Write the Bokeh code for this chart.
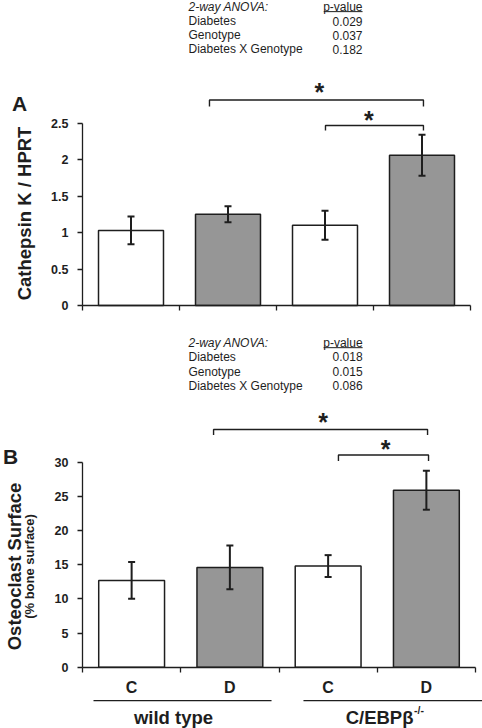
import math
from bokeh.plotting import figure
from bokeh.models import Range1d, LinearAxis, FixedTicker, ColumnDataSource, Whisker, TeeHead
from bokeh.layouts import column
from bokeh.embed import file_html
from bokeh.resources import INLINE
from bokeh.core.properties import value

# ---------------- data ----------------
conditions = ["C", "D", "C", "D"]
diabetic = [False, True, False, True]
genotypes = ["wild type", "C/EBPβ"]
genotype_sup = "-/-"
cathepsin_k = [1.03, 1.25, 1.10, 2.06]
cathepsin_k_sem = [0.19, 0.11, 0.20, 0.28]
osteoclast_surface = [12.7, 14.6, 14.8, 25.9]
osteoclast_surface_sem = [2.7, 3.2, 1.6, 2.85]
anova_terms = ["Diabetes", "Genotype", "Diabetes X Genotype"]
anova_p_cathepsin = ["0.029", "0.037", "0.182"]
anova_p_osteoclast = ["0.018", "0.015", "0.086"]
yticks_A = [0, 0.5, 1, 1.5, 2, 2.5]
yticklabels_A = ["0", "0.5", "1", "1.5", "2", "2.5"]
yticks_B = [0, 5, 10, 15, 20, 25, 30]
yticklabels_B = ["0", "5", "10", "15", "20", "25", "30"]

# ---------------- style / layout ----------------
FONT = "Liberation Sans"
INK = "#1e1e1e"
GRAY = "#969696"
W = 482
HA, HB = 325, 403


def make_panel(H, x0_px, x1_px, y0_px, ytop_px, ymax, means, sems, yticks, yticklabels, cat_labels):
    ppx = (x1_px - x0_px) / 4.0
    ppy = (y0_px - ytop_px) / ymax
    p = figure(width=W, height=H, output_backend="svg", toolbar_location=None, tools="",
               x_range=Range1d(0.5 - x0_px / ppx, 4.5 + (W - x1_px) / ppx),
               y_range=Range1d(-(H - y0_px) / ppy, y0_px / ppy),
               x_axis_location=None, y_axis_location=None, min_border=0)
    p.outline_line_color = None
    p.xgrid.visible = False
    p.ygrid.visible = False
    p.background_fill_color = "white"
    p.border_fill_color = "white"

    xs = list(range(1, len(means) + 1))
    src = ColumnDataSource(dict(
        x=xs, top=means,
        upper=[m + s for m, s in zip(means, sems)],
        lower=[m - s for m, s in zip(means, sems)],
        fill=[GRAY if d else "white" for d in diabetic]))
    p.vbar(x="x", top="top", width=0.67, source=src, fill_color="fill",
           line_color=INK, line_width=1.5)
    wh = Whisker(source=src, base="x", upper="upper", lower="lower",
                 line_color=INK, line_width=2, level="annotation",
                 upper_head=TeeHead(size=7, line_color=INK, line_width=2),
                 lower_head=TeeHead(size=7, line_color=INK, line_width=2))
    p.add_layout(wh)

    yax = LinearAxis(fixed_location=0.5, bounds=(0, ymax),
                     ticker=FixedTicker(ticks=yticks),
                     major_label_overrides={t: l for t, l in zip(yticks, yticklabels)},
                     major_tick_out=5, major_tick_in=0, minor_tick_out=0, minor_tick_in=0,
                     major_label_standoff=9, axis_line_color=INK, axis_line_width=1.3,
                     major_tick_line_color=INK, major_tick_line_width=1.3,
                     major_label_text_font=FONT, major_label_text_font_style="bold",
                     major_label_text_font_size="12.5px", major_label_text_color=INK)
    p.add_layout(yax, "left")

    bounds_ticks = [0.5 + i for i in range(len(means) + 1)]
    if cat_labels:
        xt = FixedTicker(ticks=xs, minor_ticks=bounds_ticks)
        overrides = {x: c for x, c in zip(xs, cat_labels)}
    else:
        xt = FixedTicker(ticks=bounds_ticks)
        overrides = {t: "" for t in bounds_ticks}
    xax = LinearAxis(fixed_location=0, bounds=(0.5, 4.5), ticker=xt,
                     major_label_overrides=overrides,
                     major_tick_out=0 if cat_labels else 5, major_tick_in=0,
                     minor_tick_out=5, minor_tick_in=0,
                     axis_line_color=INK, axis_line_width=1.3,
                     major_tick_line_color=INK, major_tick_line_width=1.3,
                     minor_tick_line_color=INK, minor_tick_line_width=1.3,
                     major_label_standoff=7,
                     major_label_text_font=FONT, major_label_text_font_style="bold",
                     major_label_text_font_size="16px", major_label_text_color=INK)
    p.add_layout(xax, "below")
    return p


def txt(p, xs, ys, texts, size, style="normal", align="left", baseline="middle", angle=0.0):
    p.text(x=xs, y=ys, text=texts, text_font=value(FONT), text_font_size=value(size),
           text_font_style=style, text_align=align, text_baseline=baseline,
           text_color=INK, angle=angle)


def anova_block(p, x_left, x_right, ys, pvals, underline_y, underline_w):
    txt(p, [x_left], [ys[0]], ["2-way ANOVA:"], "12px", style="italic")
    txt(p, [x_right], [ys[0]], ["p-value"], "12px", align="right")
    p.segment(x0=[x_right - underline_w], x1=[x_right], y0=[underline_y], y1=[underline_y],
              line_color=INK, line_width=1)
    txt(p, [x_left] * len(anova_terms), ys[1:], anova_terms, "12px")
    txt(p, [x_right] * len(pvals), ys[1:], pvals, "12px", align="right")


def bracket(p, x0, x1, y_line, y_tick, star_x, star_y):
    p.line(x=[x0, x0, x1, x1], y=[y_tick, y_line, y_line, y_tick], line_color=INK, line_width=1.4)
    txt(p, [star_x], [star_y], ["*"], "25px", style="bold", align="center")


# ---------------- panel A ----------------
pA = make_panel(HA, 82, 470, 305, 122.7, 2.5, cathepsin_k, cathepsin_k_sem,
                yticks_A, yticklabels_A, None)
anova_block(pA, 1.593, 3.387, [4.100, 3.895, 3.703, 3.511], anova_p_cathepsin, 4.030, 0.40)
bracket(pA, 1.809, 4.015, 2.818, 2.729, 2.943, 2.933)
bracket(pA, 3.005, 4.015, 2.468, 2.400, 3.453, 2.549)
txt(pA, [-0.149], [2.764], ["A"], "21px", style="bold", align="center")
txt(pA, [-0.098], [1.262], ["Cathepsin K / HPRT"], "18.5px", style="bold", align="center",
    angle=math.pi / 2)

# ---------------- panel B ----------------
pB = make_panel(HB, 82, 475, 341.7, 136.7, 30, osteoclast_surface, osteoclast_surface_sem,
                yticks_B, yticklabels_B, conditions)
anova_block(pB, 1.579, 3.351, [47.51, 45.46, 43.27, 41.22], anova_p_osteoclast, 46.76, 0.397)
bracket(pB, 1.834, 4.012, 34.78, 33.98, 2.948, 35.93)
bracket(pB, 3.105, 4.022, 31.05, 30.17, 3.584, 31.98)
txt(pB, [-0.233], [30.9], ["B"], "21px", style="bold", align="center")
txt(pB, [-0.197], [14.74], ["Osteoclast Surface"], "18.5px", style="bold", align="center",
    angle=math.pi / 2)
txt(pB, [-0.040], [14.74], ["(% bone surface)"], "13px", style="bold", align="center",
    angle=math.pi / 2)

# genotype groups under the x axis
x_end = pB.x_range.end
pB.segment(x0=[0.612, 2.749], x1=[2.424, x_end], y0=[-4.88, -4.88], y1=[-4.88, -4.88],
           line_color=INK, line_width=1.3)
txt(pB, [1.426], [-7.36], [genotypes[0]], "18.5px", style="bold", align="center")
txt(pB, [3.869], [-7.36], [genotypes[1]], "18.5px", style="bold", align="right")
txt(pB, [3.875], [-6.30], [genotype_sup], "10.5px", style="bold", align="left")

layout = column(pA, pB)
open("out.html", "w").write(file_html(layout, INLINE))
